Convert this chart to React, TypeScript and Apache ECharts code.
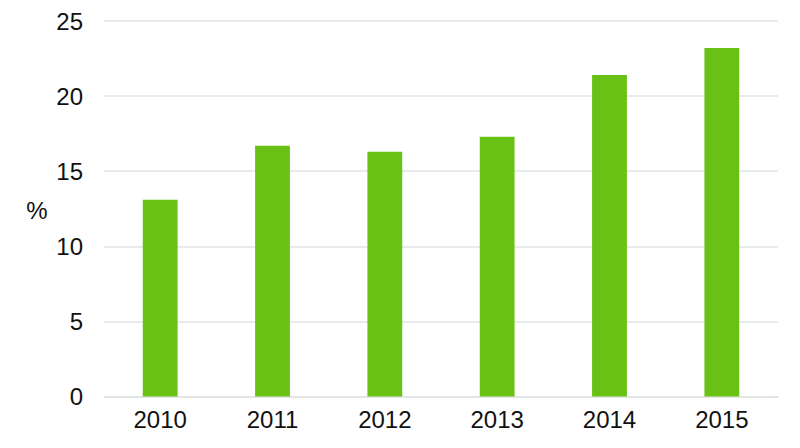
import React, { useEffect, useRef } from "react";
import * as echarts from "echarts";

const years = ["2010", "2011", "2012", "2013", "2014", "2015"];
const values = [13.1, 16.7, 16.3, 17.3, 21.4, 23.2];
const yUnit = "%";

export default function App() {
  const ref = useRef<HTMLDivElement>(null);
  useEffect(() => {
    if (!ref.current) return;
    const chart = echarts.init(ref.current, undefined, { renderer: "svg" });
    const font = "Liberation Sans, Arial, sans-serif";
    chart.setOption({
      animation: false,
      backgroundColor: "#ffffff",
      grid: { left: 104, right: 22, top: 21, bottom: 51.5 },
      xAxis: {
        type: "category",
        data: years,
        axisLine: { show: true, lineStyle: { color: "#e0e4e4", width: 1.5 } },
        axisTick: { show: false },
        axisLabel: { color: "#111111", fontSize: 24, fontFamily: font, margin: 11 },
      },
      yAxis: {
        type: "value",
        min: 0,
        max: 25,
        interval: 5,
        axisLine: { show: false },
        axisTick: { show: false },
        splitLine: { lineStyle: { color: "#e0e4e4", width: 1.5 } },
        axisLabel: { color: "#111111", fontSize: 24, fontFamily: font, margin: 21 },
      },
      graphic: [
        {
          type: "text",
          x: 37,
          y: 210,
          style: {
            text: yUnit,
            fill: "#111111",
            font: `24px ${font}`,
            textAlign: "center",
            textVerticalAlign: "middle",
          },
        },
      ],
      series: [
        {
          type: "bar",
          data: values,
          barWidth: "31%",
          itemStyle: { color: "#6ac115" },
        },
      ],
    });
    return () => chart.dispose();
  }, []);
  return <div ref={ref} style={{ width: 800, height: 448, position: "absolute", left: 0, top: 0 }} />;
}
